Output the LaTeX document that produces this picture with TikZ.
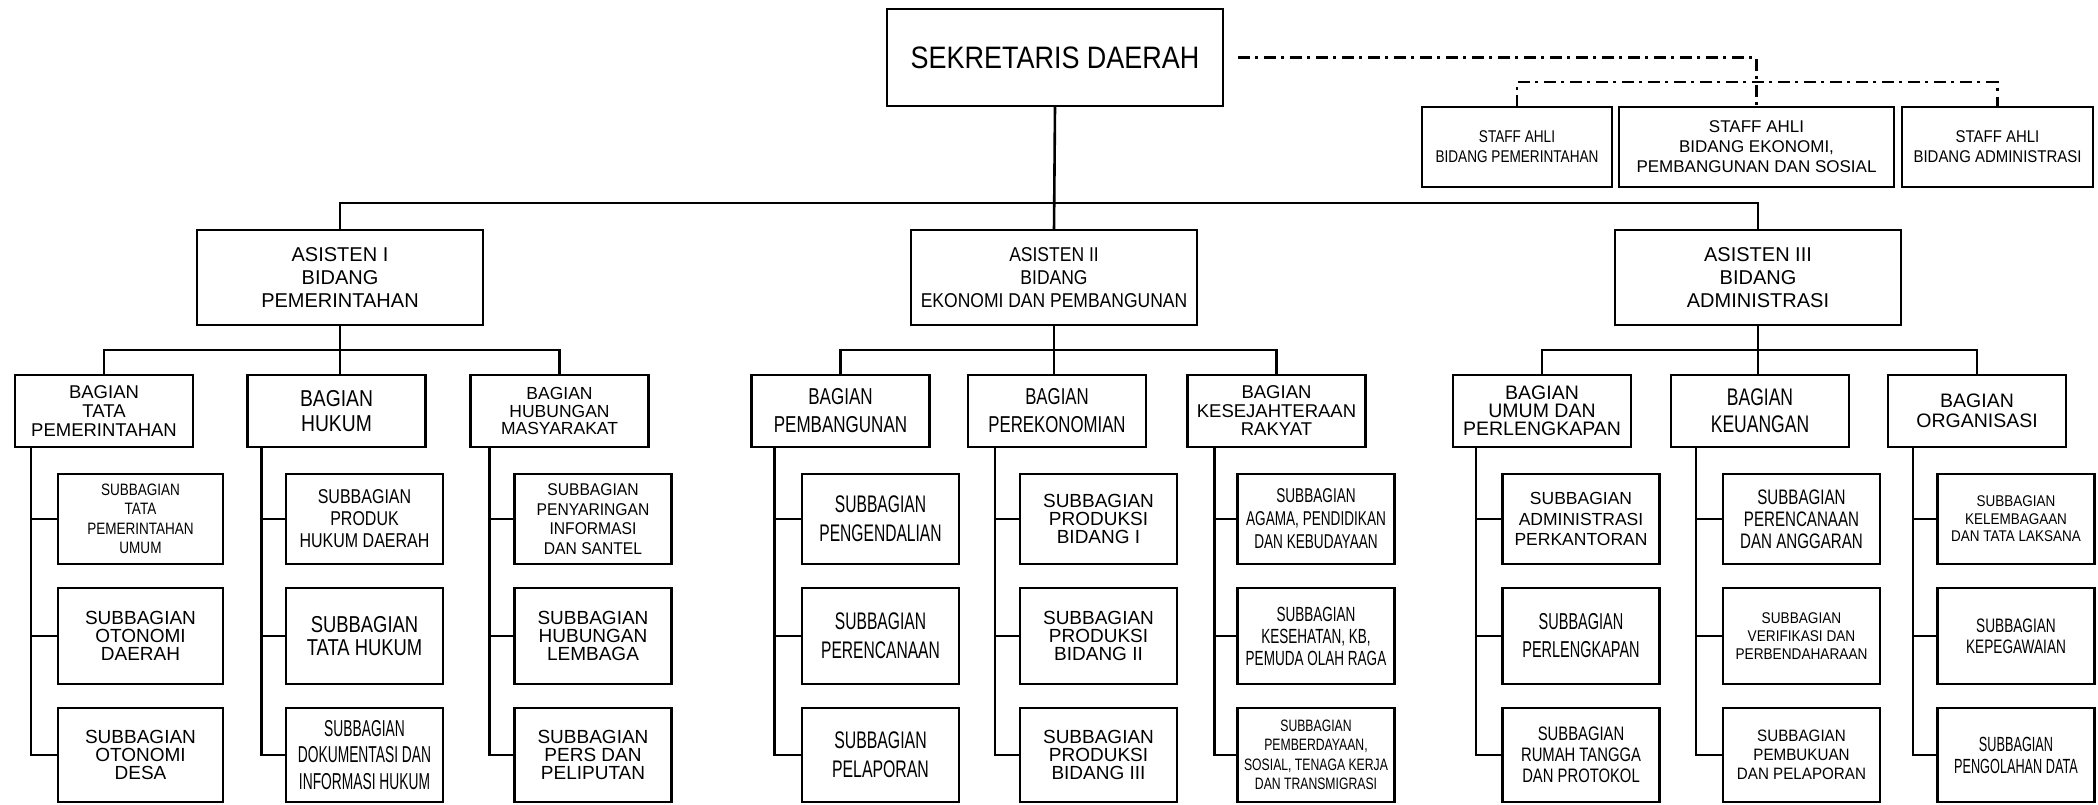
\documentclass[tikz,border=0pt]{standalone}
\usepackage{fontspec}
\setmainfont{Liberation Sans}
\usetikzlibrary{positioning}
% Arial-like text, squeezed by #1, size #2, line distance #3
\newcommand\boxfont[3]{\fontspec[FakeStretch=#1]{Liberation Sans}\fontsize{#2}{#3}\selectfont}

\begin{document}
\begin{tikzpicture}[x=1pt, y=-1pt,% one unit = one pixel, y downwards
      box/.style = {draw, line width=2.6pt, align=center,
                    inner sep=1pt, outer sep=0pt},
  asisten/.style = {box, minimum width=286pt, minimum height=95pt},
   bagian/.style = {box, minimum width=178pt, minimum height=72pt},
    staff/.style = {box, minimum height=80pt},
      sub/.style = {box, minimum width=157pt},
    rowa/.style = {sub, minimum height=90pt},
    rowb/.style = {sub, minimum height=96pt},
    rowc/.style = {sub, minimum height=94pt},
     link/.style = {line width=2.6pt},
     ahli/.style = {line width=2.4pt,
                    dash pattern=on 12pt off 5pt on 3pt off 6pt}
                    ]
\useasboundingbox (0,0) rectangle (2098,804);

	% kepala
	\node[box, minimum width=336pt, minimum height=97pt,
	      font=\boxfont{0.87}{31}{34}] (sek) at (1055,57.5) {SEKRETARIS DAERAH};

	% staff ahli
	\node[staff, minimum width=190pt, font=\boxfont{0.8}{17}{20}] (ahli1) at (1517,147)
	     {STAFF AHLI\\BIDANG PEMERINTAHAN};
	\node[staff, minimum width=275pt, font=\boxfont{1}{17}{20}] (ahli2) at (1756.5,147)
	     {STAFF AHLI\\BIDANG EKONOMI,\\PEMBANGUNAN DAN SOSIAL};
	\node[staff, minimum width=191pt, font=\boxfont{0.88}{17}{20}] (ahli3) at (1997.5,147)
	     {STAFF AHLI\\BIDANG ADMINISTRASI};

	% asisten
	\node[asisten, font=\boxfont{1}{20}{23}] (a1) at (340,277.5)
	     {ASISTEN I\\BIDANG\\PEMERINTAHAN};
	\node[asisten, font=\boxfont{0.875}{20}{23}] (a2) at (1054,277.5)
	     {ASISTEN II\\BIDANG\\EKONOMI DAN PEMBANGUNAN};
	\node[asisten, font=\boxfont{1}{20}{23}] (a3) at (1758,277.5)
	     {ASISTEN III\\BIDANG\\ADMINISTRASI};

	% bagian
	\node[bagian, font=\boxfont{1}{18.5}{19}] (bA) at (104,411) {BAGIAN\\TATA\\PEMERINTAHAN};
	\node[bagian, font=\boxfont{0.84}{23}{25}] (bB) at (336.5,411) {BAGIAN\\HUKUM};
	\node[bagian, font=\boxfont{1}{17.5}{17.5}] (bC) at (559.5,411) {BAGIAN\\HUBUNGAN\\MASYARAKAT};
	\node[bagian, font=\boxfont{0.74}{23}{28}] (bD) at (840.5,411) {BAGIAN\\PEMBANGUNAN};
	\node[bagian, font=\boxfont{0.73}{23}{28}] (bE) at (1057,411) {BAGIAN\\PEREKONOMIAN};
	\node[bagian, font=\boxfont{1}{18.5}{18.5}] (bF) at (1276.5,411) {BAGIAN\\KESEJAHTERAAN\\RAKYAT};
	\node[bagian, font=\boxfont{1}{19.5}{18}] (bG) at (1542,411) {BAGIAN\\UMUM DAN\\PERLENGKAPAN};
	\node[bagian, font=\boxfont{0.73}{24}{27}] (bH) at (1760,411) {BAGIAN\\KEUANGAN};
	\node[bagian, font=\boxfont{1}{19.5}{20}] (bI) at (1977,411) {BAGIAN\\ORGANISASI};

	% subbagian, asisten I
	\node[rowa, minimum width=165pt, font=\boxfont{0.82}{16.5}{19.5}] (sA1) at (140.5,519)
	     {SUBBAGIAN\\TATA\\PEMERINTAHAN\\UMUM};
	\node[rowb, minimum width=165pt, font=\boxfont{1}{19}{18}] (sA2) at (140.5,636)
	     {SUBBAGIAN\\OTONOMI\\DAERAH};
	\node[rowc, minimum width=165pt, font=\boxfont{1}{19}{18}] (sA3) at (140.5,755)
	     {SUBBAGIAN\\OTONOMI\\DESA};
	\node[rowa, font=\boxfont{0.8}{20}{22}] (sB1) at (364.5,519) {SUBBAGIAN\\PRODUK\\HUKUM DAERAH};
	\node[rowb, font=\boxfont{0.8}{23}{23}] (sB2) at (364.5,636) {SUBBAGIAN\\TATA HUKUM};
	\node[rowc, font=\boxfont{0.6}{23}{26.5}] (sB3) at (364.5,755)
	     {SUBBAGIAN\\DOKUMENTASI DAN\\INFORMASI HUKUM};
	\node[rowa, font=\boxfont{0.92}{17}{19.5}] (sC1) at (593,519)
	     {SUBBAGIAN\\PENYARINGAN\\INFORMASI\\DAN SANTEL};
	\node[rowb, font=\boxfont{1}{19}{18}] (sC2) at (593,636) {SUBBAGIAN\\HUBUNGAN\\LEMBAGA};
	\node[rowc, font=\boxfont{1}{19}{18}] (sC3) at (593,755) {SUBBAGIAN\\PERS DAN\\PELIPUTAN};

	% subbagian, asisten II
	\node[rowa, font=\boxfont{0.65}{24}{29}] (sD1) at (880.5,519) {SUBBAGIAN\\PENGENDALIAN};
	\node[rowb, font=\boxfont{0.65}{24}{29}] (sD2) at (880.5,636) {SUBBAGIAN\\PERENCANAAN};
	\node[rowc, font=\boxfont{0.66}{24}{29}] (sD3) at (880.5,755) {SUBBAGIAN\\PELAPORAN};
	\node[rowa, font=\boxfont{1}{19}{18}] (sE1) at (1098.5,519) {SUBBAGIAN\\PRODUKSI\\BIDANG I};
	\node[rowb, font=\boxfont{1}{19}{18}] (sE2) at (1098.5,636) {SUBBAGIAN\\PRODUKSI\\BIDANG II};
	\node[rowc, font=\boxfont{1}{19}{18}] (sE3) at (1098.5,755) {SUBBAGIAN\\PRODUKSI\\BIDANG III};
	\node[rowa, font=\boxfont{0.68}{20}{23}] (sF1) at (1316,519)
	     {SUBBAGIAN\\AGAMA, PENDIDIKAN\\DAN KEBUDAYAAN};
	\node[rowb, font=\boxfont{0.66}{20.5}{22}] (sF2) at (1316,636)
	     {SUBBAGIAN\\KESEHATAN, KB,\\PEMUDA OLAH RAGA};
	\node[rowc, font=\boxfont{0.74}{16.5}{19.5}] (sF3) at (1316,755)
	     {SUBBAGIAN\\PEMBERDAYAAN,\\SOSIAL, TENAGA KERJA\\DAN TRANSMIGRASI};

	% subbagian, asisten III
	\node[rowa, font=\boxfont{1}{17.5}{20.5}] (sG1) at (1581,519)
	     {SUBBAGIAN\\ADMINISTRASI\\PERKANTORAN};
	\node[rowb, font=\boxfont{0.63}{23}{28}] (sG2) at (1581,636) {SUBBAGIAN\\PERLENGKAPAN};
	\node[rowc, font=\boxfont{0.76}{19.5}{21}] (sG3) at (1581,755)
	     {SUBBAGIAN\\RUMAH TANGGA\\DAN PROTOKOL};
	\node[rowa, font=\boxfont{0.72}{21}{22}] (sH1) at (1801.5,519)
	     {SUBBAGIAN\\PERENCANAAN\\DAN ANGGARAN};
	\node[rowb, font=\boxfont{0.88}{15.5}{18}] (sH2) at (1801.5,636)
	     {SUBBAGIAN\\VERIFIKASI DAN\\PERBENDAHARAAN};
	\node[rowc, font=\boxfont{0.92}{16.5}{19}] (sH3) at (1801.5,755)
	     {SUBBAGIAN\\PEMBUKUAN\\DAN PELAPORAN};
	\node[rowa, font=\boxfont{0.87}{15.5}{17.5}] (sI1) at (2016,519)
	     {SUBBAGIAN\\KELEMBAGAAN\\DAN TATA LAKSANA};
	\node[rowb, font=\boxfont{0.7}{19.5}{21}] (sI2) at (2016,636) {SUBBAGIAN\\KEPEGAWAIAN};
	\node[rowc, font=\boxfont{0.62}{20.5}{22}] (sI3) at (2016,755) {SUBBAGIAN\\PENGOLAHAN DATA};

	% garis komando
	\draw[link] (sek.south) -- (a2.north);
	\draw[link] (a1.north) -- ++(0,-27) -| (a3.north);
	\foreach \as/\l/\m/\r in {a1/bA/bB/bC, a2/bD/bE/bF, a3/bG/bH/bI} {
		\draw[link] (\as.south) -- (\as.south |- \m.north);
		\draw[link] (\l.north) -- ++(0,-25) -| (\r.north);
	}
	\foreach \g/\d in {A/16,B/14,C/19,D/23,E/27,F/27,G/23,H/25,I/25} {
		\coordinate (sp\g) at ([xshift=\d pt]b\g.south west);
		\draw[link] (sp\g) |- (s\g3.west);
		\draw[link] (sp\g |- s\g1.west) -- (s\g1.west);
		\draw[link] (sp\g |- s\g2.west) -- (s\g2.west);
	}

	% garis koordinasi staff ahli
	\draw[ahli] ([xshift=15pt]sek.east) -| (ahli2.north);
	\draw[ahli] (ahli1.north) -- ++(0,-25) -| (ahli3.north);
\end{tikzpicture}
\end{document}
